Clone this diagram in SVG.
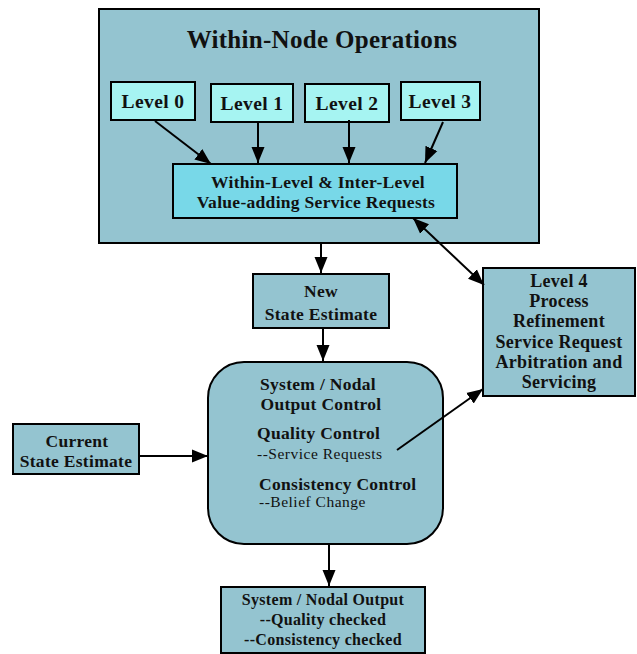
<svg xmlns="http://www.w3.org/2000/svg" width="637" height="654" viewBox="0 0 637 654">
<defs>
<style>
.b{stroke:#000;stroke-width:2}
.f1{fill:#94C4D0}
.f2{fill:#A6F4F2}
.f3{fill:#78D8E8}
text{font-family:"Liberation Serif","Times New Roman",serif;fill:#111;text-anchor:middle}
.bd{font-weight:bold;font-size:17.5px;letter-spacing:0.3px}
.lv{font-weight:bold;font-size:19.5px;letter-spacing:0.4px}
.nm{font-size:15.5px;letter-spacing:0.5px;text-anchor:start}
.ls{text-anchor:start}
.c{stroke:#000;stroke-width:2;fill:none}
</style>
<marker id="ah" markerUnits="userSpaceOnUse" markerWidth="18" markerHeight="14" refX="16" refY="7" orient="auto-start-reverse">
<path d="M0,0.5 L16,7 L0,13.5 Z" fill="#000"/>
</marker>
</defs>
<rect width="637" height="654" fill="#fff"/>
<g id="within-node">
<rect x="99" y="9" width="440" height="234" class="b f1"/>
<text x="322" y="48" style="font-weight:bold;font-size:25px;letter-spacing:0.3px">Within-Node Operations</text>
</g>
<g id="level0"><rect x="111" y="82" width="84" height="38" class="b f2"/><text x="153" y="108" class="lv">Level 0</text></g>
<g id="level1"><rect x="211" y="84" width="82" height="38" class="b f2"/><text x="252" y="110" class="lv">Level 1</text></g>
<g id="level2"><rect x="305" y="84" width="84" height="38" class="b f2"/><text x="347" y="110" class="lv">Level 2</text></g>
<g id="level3"><rect x="401" y="82" width="79" height="38" class="b f2"/><text x="440" y="108" class="lv">Level 3</text></g>
<g id="service-requests">
<rect x="173" y="164" width="284" height="54" class="b f3"/>
<text x="318" y="188" class="bd">Within-Level &amp; Inter-Level</text>
<text x="316" y="208" class="bd">Value-adding Service Requests</text>
</g>
<g id="new-state">
<rect x="253" y="274" width="136" height="54" class="b f1"/>
<text x="321" y="297" class="bd">New</text>
<text x="321" y="320" class="bd">State Estimate</text>
</g>
<g id="level4">
<rect x="483" y="268" width="152" height="128" class="b f1"/>
<text x="559" y="287" class="bd" style="font-size:18px">Level 4</text>
<text x="559" y="307" class="bd" style="font-size:18px">Process</text>
<text x="559" y="327" class="bd" style="font-size:18px">Refinement</text>
<text x="559" y="348" class="bd" style="font-size:18px">Service Request</text>
<text x="559" y="368" class="bd" style="font-size:18px">Arbitration and</text>
<text x="559" y="388" class="bd" style="font-size:18px">Servicing</text>
</g>
<g id="output-control">
<rect x="208" y="362" width="235" height="182" rx="36" ry="36" class="b f1"/>
<text x="318" y="390" class="bd">System / Nodal</text>
<text x="321" y="410" class="bd">Output Control</text>
<text x="257" y="439" class="bd ls">Quality Control</text>
<text x="257" y="459" class="nm">--Service Requests</text>
<text x="259" y="490" class="bd ls">Consistency Control</text>
<text x="259" y="507" class="nm">--Belief Change</text>
</g>
<g id="current-state">
<rect x="13" y="424" width="126" height="50" class="b f1"/>
<text x="77" y="447" class="bd">Current</text>
<text x="76" y="467" class="bd">State Estimate</text>
</g>
<g id="nodal-output">
<rect x="221" y="587" width="204" height="66" class="b f1"/>
<text x="323" y="605" class="bd" style="font-size:16px">System / Nodal Output</text>
<text x="323" y="625" class="bd" style="font-size:16px">--Quality checked</text>
<text x="323" y="645" class="bd" style="font-size:16px">--Consistency checked</text>
</g>
<g id="connectors">
<line x1="155" y1="121" x2="211" y2="164" class="c" marker-end="url(#ah)"/>
<line x1="258" y1="123" x2="258" y2="163" class="c" marker-end="url(#ah)"/>
<line x1="349" y1="120" x2="349" y2="163" class="c" marker-end="url(#ah)"/>
<line x1="443" y1="122" x2="425" y2="163" class="c" marker-end="url(#ah)"/>
<line x1="413" y1="218" x2="484" y2="285" class="c" marker-start="url(#ah)" marker-end="url(#ah)"/>
<line x1="321" y1="244" x2="321" y2="273" class="c" marker-end="url(#ah)"/>
<line x1="323" y1="329" x2="323" y2="361" class="c" marker-end="url(#ah)"/>
<line x1="397" y1="450" x2="483" y2="389" class="c" marker-end="url(#ah)"/>
<line x1="139" y1="456" x2="208" y2="456" class="c" marker-end="url(#ah)"/>
<line x1="329" y1="545" x2="329" y2="586" class="c" marker-end="url(#ah)"/>
</g>
</svg>
